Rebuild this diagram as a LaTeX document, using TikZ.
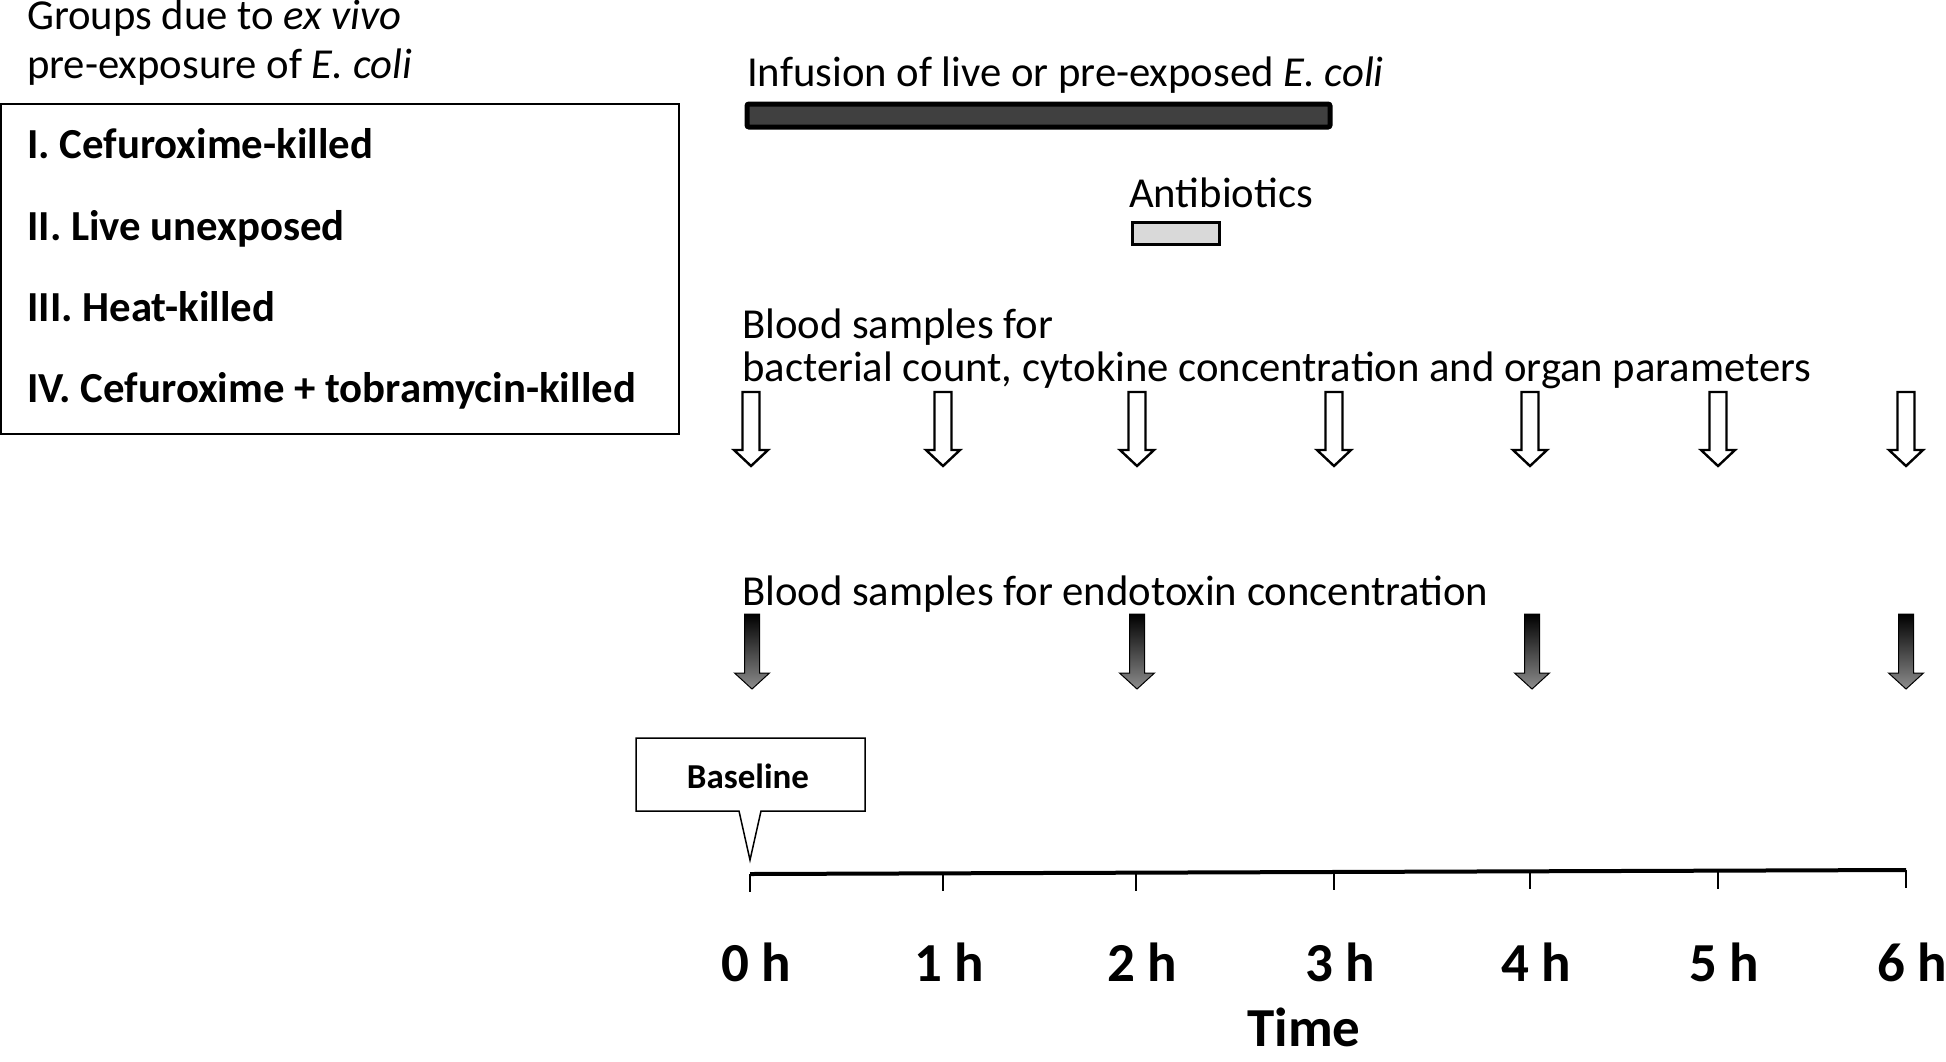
\documentclass[tikz,border=0pt]{standalone}
\usepackage{fontspec}
\setmainfont{Carlito}
\usepackage{tikz}
\usetikzlibrary{
  calc,        % 坐标计算
  positioning  % 节点相对定位
}

\tikzset{
  txt/.style={inner sep=0pt, anchor=base west, font=\fontsize{42.7}{48}\selectfont},
  grp/.style={txt, font=\fontsize{42.8}{48}\selectfont\bfseries},
  hlbl/.style={inner sep=0pt, anchor=base, font=\fontsize{55}{60}\selectfont\bfseries},
  hollowarr/.style={draw=black, fill=white, line width=2.4pt, line join=miter},
  solidarr/.style={draw=black, line width=1pt, top color=black, middle color=black, bottom color=black!45},
}

\begin{document}
\begin{tikzpicture}[x=1pt, y=-1pt]
    \useasboundingbox (0,0) rectangle (1946,1061);

    % 左侧分组说明
    \node[txt] (title1) at (27,29) {Groups due to \textit{ex vivo}};
    \node[txt] (title2) at (27,78) {pre-exposure of \textit{E. coli}};
    \draw[line width=1.5pt] (1,104) rectangle (679,434);
    \node[grp] (g1) at (27,158) {I. Cefuroxime-killed};
    \node[grp] (g2) at (27,240) {II. Live unexposed};
    \node[grp] (g3) at (27,321) {III. Heat-killed};
    \node[grp] (g4) at (27,402) {IV. Cefuroxime + tobramycin-killed};

    % 输注与抗生素
    \node[txt] (infusion) at (747,86) {Infusion of live or pre-exposed \textit{E. coli}};
    \draw[line width=5pt, fill=black!75, rounded corners=2pt] (747,104) rectangle (1330,127);
    \node[txt] (antibio) at (1129,207) {Antibiotics};
    \draw[line width=3pt, fill=black!15] (1132,222) rectangle (1219,244);

    % 血样（空心箭头）
    \node[txt] (blood1) at (742,338) {Blood samples for};
    \node[txt] (blood2) at (742,381) {bacterial count, cytokine concentration and organ parameters};
    \foreach \x in {751,943,1137,1334,1530,1718,1906} {
      \draw[hollowarr] (\x-8.5,392) -- (\x+8.5,392) -- (\x+8.5,450) -- (\x+17,450)
        -- (\x,466) -- (\x-17,450) -- (\x-8.5,450) -- cycle;
    }

    % 内毒素血样（实心箭头）
    \node[txt] (endo) at (742,605) {Blood samples for endotoxin concentration};
    \foreach \x in {752,1137,1532,1906} {
      \draw[solidarr] (\x-7.5,614) -- (\x+7.5,614) -- (\x+7.5,673) -- (\x+17.5,673)
        -- (\x,689) -- (\x-17.5,673) -- (\x-7.5,673) -- cycle;
    }

    % 基线标注
    \draw[line width=1.5pt, fill=white] (636,738) -- (865,738) -- (865,811) -- (761,811)
      -- (750,860) -- (739,811) -- (636,811) -- cycle;
    \node[inner sep=0pt, anchor=base, font=\fontsize{35}{40}\selectfont\bfseries] (base) at (748,788) {Baseline};

    % 时间轴
    \coordinate (t0) at (750,874);
    \coordinate (t6) at (1906,870);
    \draw[line width=4pt] (t0) -- (t6);
    \foreach \x/\y/\i in {750/874/0, 943/873.3/1, 1136/872.7/2, 1334/872/3, 1530/871.3/4, 1718/870.7/5, 1906/870/6} {
      \draw[line width=2.5pt] (\x,\y) -- (\x,\y+18);
      \node[hlbl] (h\i) at (\x+6,981) {\i{} h};
    }
    \node[hlbl] (time) at (1304,1046) {Time};
\end{tikzpicture}
\end{document}
